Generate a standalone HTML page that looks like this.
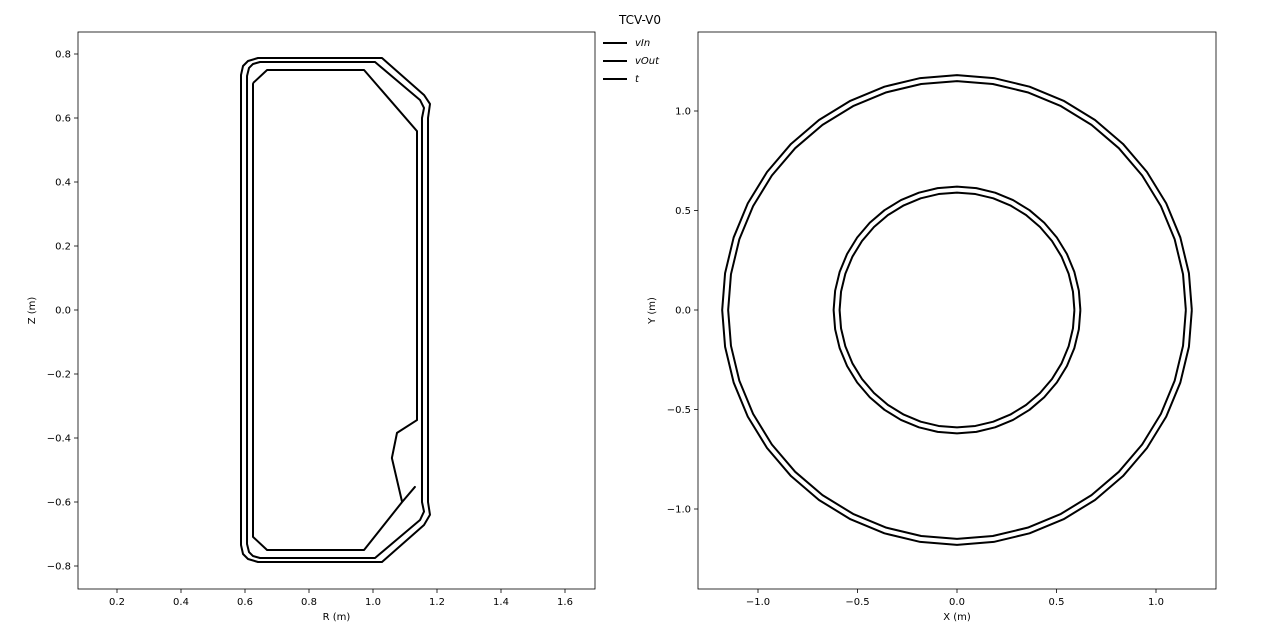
<!DOCTYPE html>
<html><head><meta charset="utf-8"><style>
body{margin:0;background:#fff;}
svg{display:block;font-family:"DejaVu Sans","Liberation Sans",sans-serif;}
</style></head><body>
<svg id="fig" width="1280" height="640" xmlns="http://www.w3.org/2000/svg">
<rect width="1280" height="640" fill="#fff"/>
<text x="640" y="24" font-size="12" text-anchor="middle">TCV-V0</text>
<g id="left"></g>
<g id="right"></g>
<g>
<g><line x1="603" y1="43" x2="627" y2="43" stroke="#000" stroke-width="2"/><text x="635" y="46" font-size="10" font-style="italic">vIn</text></g>
<g><line x1="603" y1="61" x2="627" y2="61" stroke="#000" stroke-width="2"/><text x="635" y="64" font-size="10" font-style="italic">vOut</text></g>
<g><line x1="603" y1="79" x2="627" y2="79" stroke="#000" stroke-width="2"/><text x="635" y="82" font-size="10" font-style="italic">t</text></g>
</g>
</svg>
<script>
const leftXTicks=[0.2,0.4,0.6,0.8,1.0,1.2,1.4,1.6];
const leftXLabels=["0.2","0.4","0.6","0.8","1.0","1.2","1.4","1.6"];
const leftYTicks=[-0.8,-0.6,-0.4,-0.2,0,0.2,0.4,0.6,0.8];
const leftYLabels=["\u22120.8","\u22120.6","\u22120.4","\u22120.2","0.0","0.2","0.4","0.6","0.8"];
const rightXTicks=[-1,-0.5,0,0.5,1];
const rightXLabels=["\u22121.0","\u22120.5","0.0","0.5","1.0"];
const rightYTicks=[-1,-0.5,0,0.5,1];
const rightYLabels=["\u22121.0","\u22120.5","0.0","0.5","1.0"];
const vOutR=[0.5875,0.5938,0.6094,0.6406,1.0281,1.1594,1.1781,1.1719,1.1719,1.1781,1.1594,1.0281,0.6406,0.6094,0.5938,0.5875];
const vOutZ=[0.7344,0.7625,0.7781,0.7875,0.7875,0.6719,0.6438,0.6,-0.6,-0.64,-0.672,-0.7875,-0.7875,-0.7781,-0.7625,-0.7344];
const vInR=[0.6063,0.6125,0.625,0.6469,1.0063,1.1469,1.1594,1.1531,1.1531,1.1594,1.1469,1.0063,0.6469,0.625,0.6125,0.6063];
const vInZ=[0.7313,0.7563,0.7688,0.775,0.775,0.6563,0.6313,0.6,-0.6,-0.63,-0.6563,-0.775,-0.775,-0.7688,-0.7563,-0.7313];
const tR=[0.625,0.669,0.972,1.1375,1.1375,1.075,1.059,1.091,1.131,1.091,0.972,0.669,0.625,0.625];
const tZ=[0.709,0.75,0.75,0.559,-0.344,-0.384,-0.4625,-0.6,-0.553,-0.6,-0.75,-0.75,-0.709,0.709];
const ringRadii=[0.59,0.62,1.15,1.18];
const ringNames=["inner-ring-vin","inner-ring-vout","outer-ring-vin","outer-ring-vout"];
const ringSegments=40;

const NS="http://www.w3.org/2000/svg";
function mk(tag,attrs,parent){const e=document.createElementNS(NS,tag);for(const k in attrs)e.setAttribute(k,attrs[k]);parent.appendChild(e);return e;}

function axes(g,box,xs,ys,xt,xl,yt,yl,xlabel,ylabel){
  const frame=mk('rect',{x:box.x0,y:box.y0,width:box.x1-box.x0,height:box.y1-box.y0,fill:'none',stroke:'#000','stroke-width':0.8},g);
  
  
  xt.forEach((v,i)=>{const x=xs(v);
    mk('line',{x1:x,y1:box.y1,x2:x,y2:box.y1+4,stroke:'#000','stroke-width':0.8},g);
    const t=mk('text',{x:x,y:box.y1+16,'font-size':10,'text-anchor':'middle'},g);t.textContent=xl[i];
    
    });
  yt.forEach((v,i)=>{const y=ys(v);
    mk('line',{x1:box.x0-4,y1:y,x2:box.x0,y2:y,stroke:'#000','stroke-width':0.8},g);
    const t=mk('text',{x:box.x0-7,y:y+3.5,'font-size':10,'text-anchor':'end'},g);t.textContent=yl[i];
    
    });
  const xa=mk('text',{x:(box.x0+box.x1)/2,y:box.y1+31,'font-size':10,'text-anchor':'middle'},g);xa.textContent=xlabel;
  
  
  const cy=(box.y0+box.y1)/2;
  const ya=mk('text',{x:box.x0-43,y:cy,'font-size':10,'text-anchor':'middle',transform:`rotate(-90 ${box.x0-43} ${cy})`},g);ya.textContent=ylabel;
  
  
}
function poly(g,xs,ys,X,Y,name,close){
  let d=X.map((v,i)=>(i?'L':'M')+xs(v).toFixed(2)+' '+ys(Y[i]).toFixed(2)).join(' ')+(close?' Z':'');
  const p=mk('path',{d:d,fill:'none',stroke:'#000','stroke-width':2,'stroke-linejoin':'round'},g);
  
  
}
const L=document.getElementById('left');
const lb={x0:78,x1:595,y0:32,y1:589};
const lx=v=>53+v*320, ly=v=>310-v*320;
axes(L,lb,lx,ly,leftXTicks,leftXLabels,leftYTicks,leftYLabels,"R (m)","Z (m)");
poly(L,lx,ly,vOutR,vOutZ,'vout-contour',true);
poly(L,lx,ly,vInR,vInZ,'vin-contour',true);
poly(L,lx,ly,tR,tZ,'tile-contour',false);
const Rg=document.getElementById('right');
const rb={x0:698,x1:1216,y0:32,y1:589};
const rx=v=>957+v*199, ry=v=>310-v*199;
axes(Rg,rb,rx,ry,rightXTicks,rightXLabels,rightYTicks,rightYLabels,"X (m)","Y (m)");
ringRadii.forEach((r,k)=>{
  const X=[],Y=[];
  for(let i=0;i<=ringSegments;i++){const a=2*Math.PI*i/ringSegments;X.push(r*Math.cos(a));Y.push(r*Math.sin(a));}
  poly(Rg,rx,ry,X,Y,ringNames[k],false);
});
</script>
</body></html>
